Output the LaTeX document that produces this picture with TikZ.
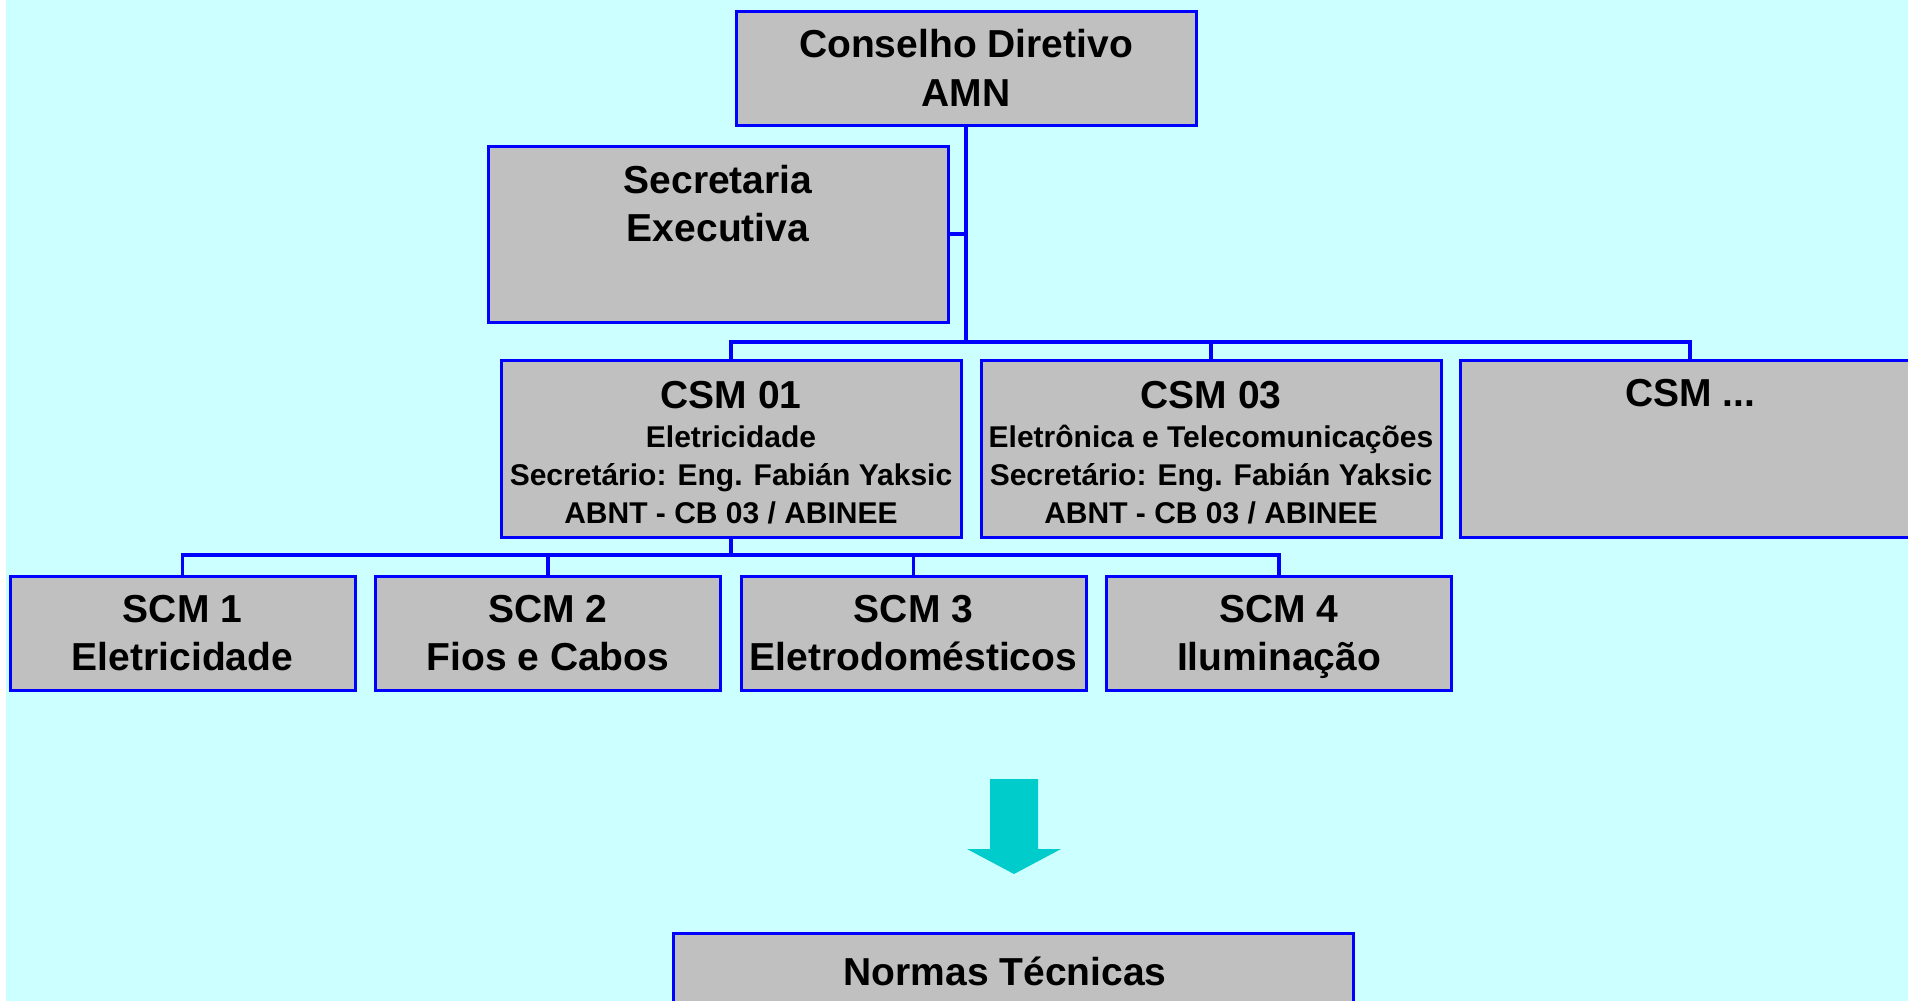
\documentclass[tikz,border=0pt]{standalone}
\usepackage{fontspec}
\setmainfont{Liberation Sans}
\usetikzlibrary{positioning,calc}
\definecolor{bgcyan}{HTML}{CCFFFF}
\definecolor{boxgray}{HTML}{C0C0C0}
\definecolor{lineblue}{HTML}{0000FF}
\definecolor{arrowteal}{HTML}{00CCCC}
\newcommand{\orgbig}{\bfseries\fontsize{19.5}{24.35}\selectfont}
\newcommand{\orgsmall}{\bfseries\fontsize{15}{18.85}\selectfont}

\begin{document}
\begin{tikzpicture}[box/.style={draw=lineblue,fill=boxgray,line width=1.5pt,outer sep=0pt,inner sep=0pt,align=center,font=\orgbig},
	bigbox/.style={box,minimum width=230pt,minimum height=57pt},
	csmbox/.style={box,minimum width=230pt,minimum height=88.5pt},
	scmbox/.style={box,minimum width=172.5pt,minimum height=57pt},
	link/.style={draw=lineblue,line width=1.8pt}]
	\useasboundingbox (0,0) rectangle (954pt,-500.5pt);
	\clip (0,0) rectangle (954pt,-500.5pt);
	\fill[white] (0,0) rectangle (954pt,-500.5pt);
	\fill[bgcyan] (3pt,0) rectangle (954pt,-500.5pt);
	\node (Cons) [bigbox] at (483pt,-34pt) {Conselho Diretivo\\AMN};
	\node (Sec) [bigbox,minimum height=88pt,anchor=north east] at ($(Cons.south)+(-9pt,-10.5pt)$) {Secretaria\\Executiva\\[6.3pt]~};
	\node (CSM01) [csmbox,anchor=north east] at ($(Cons.south)+(-2.5pt,-117.5pt)$) {~\\[-6.85pt]CSM 01\\[-4.65pt]{\orgsmall Eletricidade}\\[-5.5pt]{\orgsmall Secretário: Eng. Fabián Yaksic}\\[-5.5pt]{\orgsmall ABNT - CB 03 / ABINEE}};
	\node (CSM03) [csmbox,right=10pt of CSM01] {~\\[-6.85pt]CSM 03\\[-4.65pt]{\orgsmall Eletrônica e Telecomunicações}\\[-5.5pt]{\orgsmall Secretário: Eng. Fabián Yaksic}\\[-5.5pt]{\orgsmall ABNT - CB 03 / ABINEE}};
	\node (CSMx) [csmbox,right=9.5pt of CSM03] {CSM ...\\[31.1pt]~};
	\node (SCM1) [scmbox,anchor=north west] at (5pt,-288pt) {SCM 1\\Eletricidade};
	\node (SCM2) [scmbox,right=10.25pt of SCM1] {SCM 2\\Fios e Cabos};
	\node (SCM3) [scmbox,right=10.25pt of SCM2] {SCM 3\\Eletrodomésticos};
	\node (SCM4) [scmbox,right=10.25pt of SCM3] {SCM 4\\\raisebox{0pt}[\height][0pt]{Iluminação}};
	\node (Norm) [box,minimum width=340pt,minimum height=38pt,anchor=north] at (506.5pt,-466.5pt) {Normas Técnicas\hspace*{8pt}};
	\draw[link,line width=2.2pt] (Cons.south) -- ($(Cons.south |- CSM01.north)+(0,9pt)$);
	\draw[link] (Sec.east) -- (Sec.east -| Cons.south);
	\draw[link] (CSM01.north) -- ++(0,9pt) -| (CSMx.north);
	\draw[link] (CSM03.north) -- ++(0,9pt);
	\draw[link] (CSM01.south) -- ++(0,-9pt);
	\draw[link] (SCM1.north) -- ++(0,10.5pt) -| (SCM4.north);
	\foreach \n in {2,3}
		\draw[link] (SCM\n.north) -- ++(0,10.5pt);
	\coordinate (tip) at ($(Norm.north)+(0.5pt,29.5pt)$);
	\fill[arrowteal] (tip) -- ++(-23.5pt,12.5pt) -- ++(11.5pt,0) -- ++(0,35pt) -- ++(24pt,0) -- ++(0,-35pt) -- ++(11.5pt,0) -- cycle;
\end{tikzpicture}
\end{document}
